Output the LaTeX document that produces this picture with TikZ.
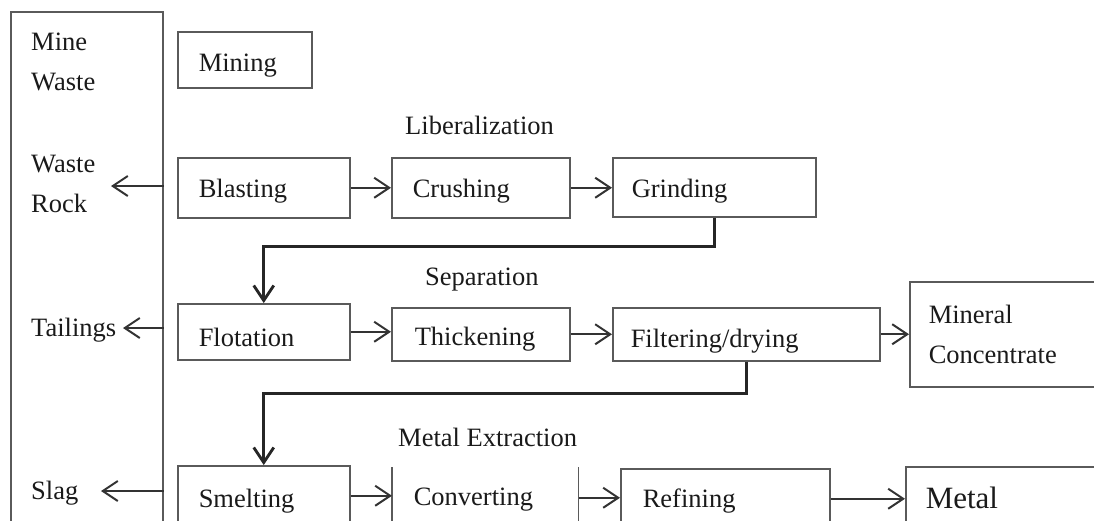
\documentclass[tikz,border=0pt]{standalone}
\usepackage{fontspec}
\setmainfont{Liberation Serif}
\usetikzlibrary{arrows.meta}
\definecolor{boxc}{HTML}{5A5A5A}
\definecolor{arrc}{HTML}{333333}
\definecolor{txtc}{HTML}{1A1A1A}
\tikzset{
  txt/.style={font=\fontsize{26.5pt}{40pt}\selectfont, text=txtc, inner sep=0pt},
  box/.style={draw=boxc, line width=1.5pt, txt, inner xsep=21pt, inner ysep=0pt,
    align=left, anchor=north west, text depth=4pt},
  arr/.style={draw=arrc, line width=2pt, -{Straight Barb[length=15pt,width=20pt]}},
  thk/.style={draw=black!85, line width=2.8pt, -{Straight Barb[length=15pt,width=20pt]}},
  sideline/.style={draw=boxc, line width=1.5pt}
}
\begin{document}
\begin{tikzpicture}[x=1pt,y=-1pt]
\useasboundingbox (0,0) rectangle (1094,520);
\clip (0,0) rectangle (1094,520);
\fill[white] (0,0) rectangle (1094,520);

% left waste column
\node[box, minimum width=152pt, minimum height=529pt] (lb) at (10,11) {};
\node[txt, align=left, anchor=west] (minewaste) at (31,62) {Mine\\Waste};
\node[txt, align=left, anchor=west] (wasterock) at (31,184) {Waste\\Rock};
\node[txt, anchor=base west] (tailings) at (31,336) {Tailings};
\node[txt, anchor=base west] (slag) at (31,499) {Slag};
\coordinate (wrtip) at (111,186);
\coordinate (tltip) at (123,328);
\coordinate (sltip) at (101,491);

% section titles
\node[txt, anchor=base west] (lib) at (405,134) {Liberalization};
\node[txt, anchor=base west] (sep) at (425,285) {Separation};
\node[txt, anchor=base west] (mex) at (398,446) {Metal Extraction};

% process boxes
\node[box, minimum width=134pt, minimum height=56pt, text width=92pt, text height=28pt] (mining) at (177,31) {Mining};
\node[box, minimum width=172pt, minimum height=60pt, text width=130pt, text height=24pt] (blast) at (177,157) {Blasting};
\node[box, minimum width=178pt, minimum height=60pt, text width=136pt, text height=24pt] (crush) at (391,157) {Crushing};
\node[box, minimum width=203pt, minimum height=59pt, inner xsep=19pt, text width=165pt, text height=25pt] (grind) at (612,157) {Grinding};
\node[box, minimum width=172pt, minimum height=56pt, text width=130pt, text height=34pt] (flot) at (177,303) {Flotation};
\node[box, minimum width=178pt, minimum height=53pt, inner xsep=23pt, text width=132pt, text height=27pt] (thick) at (391,307) {Thickening};
\node[box, minimum width=267pt, minimum height=53pt, inner xsep=18pt, text width=231pt, text height=31pt] (filt) at (612,307) {Filtering/drying};
\node[box, minimum width=211pt, minimum height=105pt, inner xsep=19pt, text width=173pt, text depth=] (mineral) at (909,281) {Mineral\\Concentrate};
\node[box, minimum width=172pt, minimum height=60pt, text width=130pt, text height=28pt] (smelt) at (177,465) {Smelting};
\node[box, draw=none, minimum width=185pt, minimum height=60pt, text width=143pt, text height=20pt] (conv) at (392,467) {Converting};
\draw[sideline] (conv.north west) -- (conv.south west);
\draw[sideline] (conv.north east) -- (conv.south east);
\node[box, minimum width=209pt, minimum height=60pt, inner xsep=22pt, text width=165pt, text height=22pt] (refine) at (620,468) {Refining};
\node[box, minimum width=215pt, minimum height=60pt, inner xsep=20pt, text width=175pt, text height=28pt, font=\fontsize{31pt}{40pt}\selectfont] (metal) at (905,466) {Metal};

% waste arrows
\draw[arr] (lb.east |- wrtip) -- (wrtip);
\draw[arr] (lb.east |- tltip) -- (tltip);
\draw[arr] (lb.east |- sltip) -- (sltip);

% flow arrows
\draw[arr] (blast.east) -- (blast.east -| crush.west);
\draw[arr] (crush.east) -- (crush.east -| grind.west);
\draw[arr] (flot.east) -- (flot.east -| thick.west);
\draw[arr] (thick.east) -- (thick.east -| filt.west);
\draw[arr] (filt.east) -- (filt.east -| mineral.west);
\draw[arr] (smelt.east) -- (smelt.east -| conv.west);
\draw[arr] (conv.east) -- (conv.east -| refine.west);
\draw[arr] (refine.east) -- (refine.east -| metal.west);

% stage connectors
\draw[thk] (grind.south) -- ++(0,29) -| (flot.north);
\draw[thk] (filt.south) -- ++(0,32) -| (smelt.north);
\end{tikzpicture}
\end{document}
